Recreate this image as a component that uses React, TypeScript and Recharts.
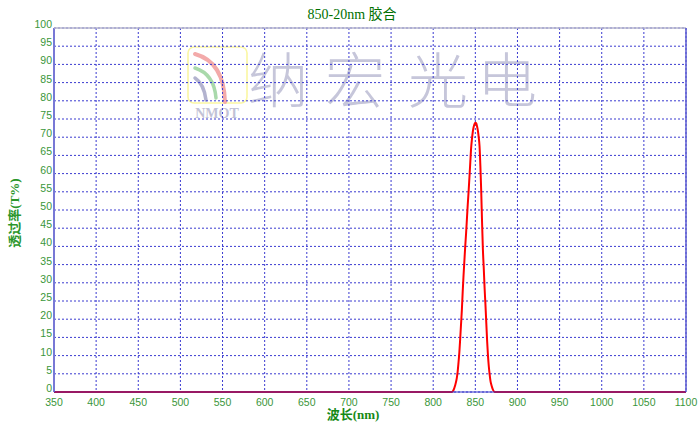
import React from "react";
import { LineChart, Line, XAxis, YAxis, CartesianGrid, ReferenceLine } from "recharts";

const chartTitle = "850-20nm 胶合";
const xAxisTitle = "波长(nm)";
const yAxisTitle = "透过率(T%)";
const watermarkChars = ["纳", "宏", "光", "电"];
const logoText = "NMOT";

const xTicks = [350, 400, 450, 500, 550, 600, 650, 700, 750, 800, 850, 900, 950, 1000, 1050, 1100];
const yTicks = [0, 5, 10, 15, 20, 25, 30, 35, 40, 45, 50, 55, 60, 65, 70, 75, 80, 85, 90, 95, 100];

const wavelengths = [
  350, 400, 450, 500, 550, 600, 650, 700, 750, 800, 822, 824, 826, 828, 829, 830, 831, 832, 833, 834,
  835, 836, 837, 838, 839, 840, 841, 842, 843, 844, 845, 846, 847, 848, 849, 850, 851, 852, 853, 854,
  855, 856, 857, 858, 859, 860, 861, 862, 863, 864, 865, 866, 867, 868, 869, 870, 871, 873, 900, 950,
  1000, 1050, 1100,
];
const transmittance = [
  0, 0, 0, 0, 0, 0, 0, 0, 0, 0, 0, 0.5, 1.8, 3.8, 5.5, 8, 10.8, 14.5, 18.5, 22.5,
  27.5, 32, 36, 40, 43.5, 47.5, 51.5, 55, 59, 63, 67, 69.5, 71.5, 72.8, 73.6, 74, 73.8, 73, 71.8, 70,
  67.5, 62, 55, 46.5, 39, 34, 28.5, 24, 19, 14, 10, 7, 4.8, 3, 2, 1.2, 0.6, 0, 0, 0,
  0, 0, 0,
];

const data = wavelengths.map((w, i) => ({ w, t: transmittance[i] }));

const GREEN_TICK = "#3a963a";
const GREEN_TITLE = "#007000";
const tickFont = "'Liberation Sans', Arial, sans-serif";

const XTick = (props: any) => {
  const { x, y, payload } = props;
  return (
    <text x={x} y={y} dy={12} textAnchor="middle" fill={GREEN_TICK} fontSize={10.5} fontFamily={tickFont}>
      {payload.value}
    </text>
  );
};

const YTick = (props: any) => {
  const { x, y, payload } = props;
  return (
    <text x={x} y={y} dy={0} textAnchor="end" fill={GREEN_TICK} fontSize={10.5} fontFamily={tickFont}>
      {payload.value}
    </text>
  );
};

const charCenters = [278, 355, 438, 507];

export default function App() {
  return (
    <div style={{ position: "absolute", left: 0, top: 0, width: 700, height: 425, background: "#fff" }}>
      <svg width={700} height={425} style={{ position: "absolute", left: 0, top: 0 }}>
        <rect x={188} y={47} width={59} height={56} rx={6} fill="none" stroke="#fbf7a2" strokeWidth={1.6} />
        <path d="M195 54 Q 224 62 225 102" fill="none" stroke="#f3aaaa" strokeWidth={4} strokeLinecap="round" />
        <path d="M195 68 Q 214 74 216 98" fill="none" stroke="#a9d9ab" strokeWidth={3.5} strokeLinecap="round" />
        <path d="M195 78 Q 204 84 206 100" fill="none" stroke="#b3b3cf" strokeWidth={3.5} strokeLinecap="round" />
        <text x={217} y={118} textAnchor="middle" fontSize={14} fontWeight="bold" fill="#c2c2d6"
          fontFamily="'Liberation Serif', serif">{logoText}</text>
        {watermarkChars.map((c, i) => (
          <text key={i} x={charCenters[i]} y={103} textAnchor="middle" fontSize={60} fill="#c6c6da"
            fontFamily="'Noto Sans CJK SC', sans-serif" fontWeight={300}>{c}</text>
        ))}
      </svg>
      <div style={{ position: "absolute", left: 0, top: 0 }}>
        <LineChart width={700} height={425} data={data} margin={{ top: 28, right: 14, bottom: 3, left: 0 }}>
          <CartesianGrid stroke="#3a3ad0" strokeDasharray="2 2" strokeWidth={1} />
          <XAxis dataKey="w" type="number" domain={[350, 1100]} ticks={xTicks} interval={0}
            axisLine={false} tickLine={false} tickSize={0} tickMargin={2} height={30} tick={<XTick />} />
          <YAxis type="number" domain={[0, 100]} ticks={yTicks} interval={0} width={54}
            axisLine={{ stroke: "#7878d6", strokeWidth: 2 }} tickLine={false} tickSize={0} tickMargin={2} tick={<YTick />} />
          <Line type="monotone" dataKey="t" stroke="#ff0000" strokeWidth={2} dot={false} isAnimationActive={false} />
          <ReferenceLine y={100} stroke="#b4b4cc" strokeWidth={1.5} zIndex={1000} />
          <ReferenceLine x={1100} stroke="#5a5ad0" strokeWidth={1.5} zIndex={1000} />
          <ReferenceLine y={0} stroke="#3232c8" strokeOpacity={0.5} strokeWidth={2} zIndex={1000} />
        </LineChart>
      </div>
      <svg width={700} height={425} style={{ position: "absolute", left: 0, top: 0, pointerEvents: "none" }}>
        <text x={352} y={19} textAnchor="middle" fontSize={14} fill={GREEN_TITLE}
          fontFamily="'Liberation Serif', 'Noto Sans CJK SC', serif">{chartTitle}</text>
        <text x={353} y={419} textAnchor="middle" fontSize={13} fontWeight="bold" fill="#168a16"
          fontFamily="'Liberation Serif', 'Noto Sans CJK SC', serif">{xAxisTitle}</text>
        <text x={0} y={0} transform="translate(19,213) rotate(-90)" textAnchor="middle" fontSize={13} fontWeight="bold"
          fill="#2a962a" fontFamily="'Liberation Serif', 'Noto Sans CJK SC', serif">{yAxisTitle}</text>
      </svg>
    </div>
  );
}
